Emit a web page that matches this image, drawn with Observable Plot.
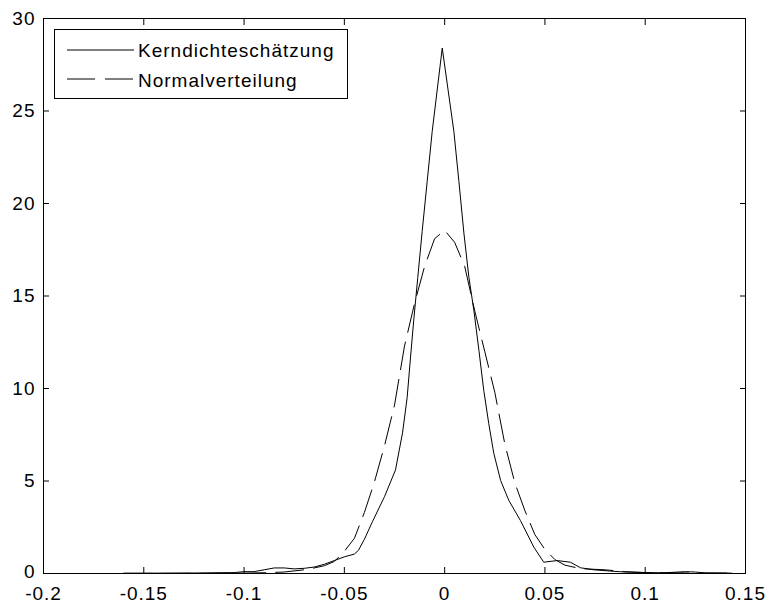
<!DOCTYPE html>
<html><head><meta charset="utf-8">
<script src="https://cdn.jsdelivr.net/npm/d3@7"></script>
<script src="https://cdn.jsdelivr.net/npm/@observablehq/plot@0.6"></script>
<style>
html,body{margin:0;padding:0;background:#fff;}
#chart{position:relative;width:767px;height:604px;}
#legend{position:absolute;left:54px;top:29px;width:292px;height:68px;border:1px solid #000;background:#fff;}
#legend svg{position:absolute;left:0;top:0;}
</style></head><body><div id="chart"><div id="legend"></div></div><script>
// Kerndichteschätzung (solid)
const kdeX = [-0.16,-0.14,-0.12,-0.105,-0.1,-0.095,-0.09,-0.085,-0.08,-0.075,-0.07,-0.065,-0.06,-0.055,-0.05,-0.045,-0.043,-0.04,-0.036,-0.03,-0.0245,-0.021,-0.0187,-0.017,-0.0154,-0.0134,-0.0112,-0.0087,-0.0062,-0.0012,0.0046,0.0071,0.0096,0.0121,0.0146,0.0171,0.0195,0.022,0.0245,0.0279,0.032,0.0378,0.0445,0.0494,0.0561,0.0627,0.0677,0.0744,0.0827,0.09,0.1,0.11,0.12,0.125,0.13,0.143];
const kdeY = [0.02,0.02,0.03,0.05,0.1,0.1,0.2,0.3,0.3,0.25,0.28,0.35,0.5,0.7,0.9,1.05,1.25,1.85,2.8,4.15,5.6,7.6,9.5,11.7,13.7,16.0,18.5,21.2,23.9,28.4,23.9,21.2,18.4,16.0,14.2,12.05,9.9,8.1,6.5,5.03,3.95,2.86,1.42,0.61,0.7,0.61,0.31,0.2,0.13,0.08,0.05,0.04,0.1,0.08,0.03,0.02];
// Normalverteilung (dashed)
const normX = [-0.16,-0.12,-0.1,-0.09,-0.08,-0.07,-0.065,-0.06,-0.055,-0.05,-0.045,-0.04,-0.035,-0.03,-0.025,-0.02,-0.015,-0.01,-0.005,0,0.005,0.01,0.015,0.02,0.025,0.03,0.035,0.04,0.045,0.05,0.055,0.06,0.065,0.07,0.08,0.09,0.1,0.12,0.143];
const normY = [0,0.01,0.02,0.04,0.08,0.2,0.3,0.42,0.65,1.2,1.9,3.3,4.95,6.9,9.1,12.3,14.6,16.6,18.1,18.55,17.9,16.6,14.2,12.0,9.8,7.0,4.9,3.4,2.1,1.3,0.75,0.45,0.33,0.25,0.2,0.1,0.05,0.03,0.02];

const xTicks = [-0.2,-0.15,-0.1,-0.05,0,0.05,0.1,0.15];
const xTickLabels = ["-0.2","-0.15","-0.1","-0.05","0","0.05","0.1","0.15"];
const yTicks = [0,5,10,15,20,25,30];
const yTickLabels = ["0","5","10","15","20","25","30"];
const seriesNames = ["Kerndichteschätzung","Normalverteilung"];

const kde = kdeX.map((x,i)=>({x, y:kdeY[i]}));
const norm = normX.map((x,i)=>({x, y:normY[i]}));
const dash = "28,10";
const yFmt = (d)=>yTickLabels[yTicks.indexOf(d)];

const plot = Plot.plot({
  width:767, height:604,
  marginLeft:43, marginRight:22, marginTop:18, marginBottom:31,
  style:{fontFamily:"'Liberation Sans', Arial, sans-serif", fontSize:"19px", letterSpacing:"1px", background:"#fff", color:"#000", overflow:"visible"},
  x:{domain:[-0.2,0.15]},
  y:{domain:[0,30]},
  marks:[
    Plot.line(kde,{x:"x",y:"y",stroke:"#000",strokeWidth:1}),
    Plot.line(norm,{x:"x",y:"y",stroke:"#000",strokeWidth:1,strokeDasharray:dash}),
    Plot.frame({stroke:"#000"}),
    Plot.axisX({anchor:"bottom", ticks:xTicks, tickSize:6, dy:-6, fill:"none", label:null}),
    Plot.axisX({anchor:"top", ticks:xTicks, tickSize:6, dy:6, fill:"none", label:null}),
    Plot.axisY({anchor:"left", ticks:yTicks, tickSize:6, dx:6, fill:"none", label:null}),
    Plot.axisY({anchor:"right", ticks:yTicks, tickSize:6, dx:-6, fill:"none", label:null}),
    Plot.axisX({anchor:"bottom", ticks:xTicks, tickSize:0, tickPadding:13, label:null, fill:"#000",
      tickFormat:(d)=>xTickLabels[xTicks.indexOf(d)]}),
    Plot.axisY({anchor:"left", ticks:yTicks.slice(1), tickSize:0, tickPadding:8, label:null, fill:"#000", tickFormat:yFmt}),
    Plot.axisY({anchor:"left", ticks:yTicks.slice(0,1), tickSize:0, tickPadding:8, label:null, fill:"#000", dy:-2, tickFormat:yFmt})
  ]
});
const chart = document.getElementById("chart");
chart.insertBefore(plot, chart.firstChild);

// legend
const lg = d3.select("#legend").append("svg").attr("width",292).attr("height",68)
  .style("font-family","'Liberation Sans', Arial, sans-serif").style("font-size","19px").style("letter-spacing","1px");
const rows = [{name:seriesNames[0], dash:null, ly:20, ty:27}, {name:seriesNames[1], dash:dash, ly:49, ty:57}];
rows.forEach(r=>{
  lg.append("line").attr("x1",12).attr("x2",79).attr("y1",r.ly).attr("y2",r.ly)
    .attr("stroke","#000").attr("stroke-width",1).attr("stroke-dasharray",r.dash);
  lg.append("text").attr("x",83).attr("y",r.ty).attr("fill","#000").text(r.name);
});
</script></body></html>
